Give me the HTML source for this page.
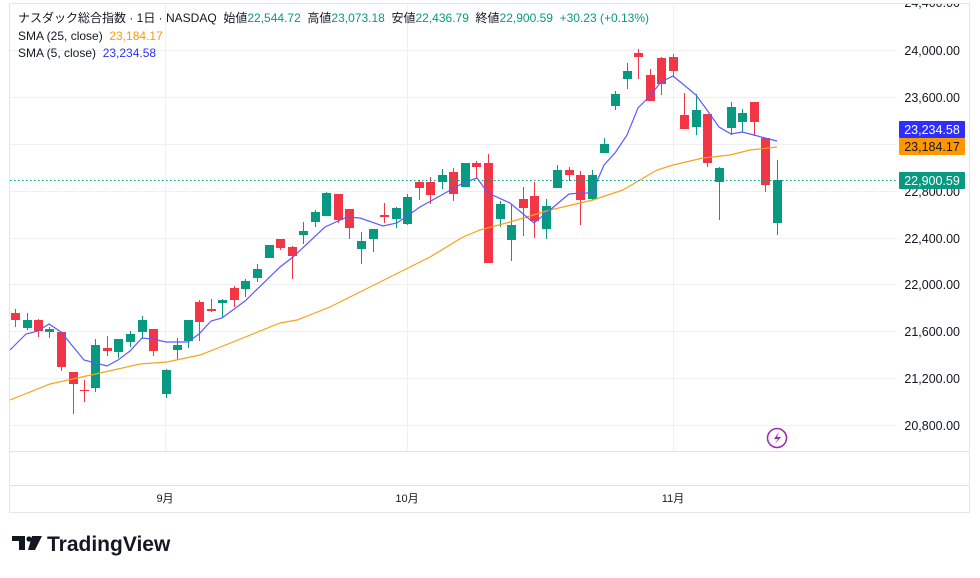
<!DOCTYPE html>
<html><head><meta charset="utf-8"><style>
body{margin:0;background:#fff;width:980px;height:573px;overflow:hidden;font-family:"Liberation Sans","Noto Sans CJK JP",sans-serif;}
svg text{font-family:"Liberation Sans","Noto Sans CJK JP",sans-serif;}
</style></head><body>
<svg id="s" width="980" height="573" xmlns="http://www.w3.org/2000/svg">
<rect x="9.5" y="3.5" width="960" height="509" fill="#fff" stroke="#e6e6ea"/>
<g stroke="#f0f0f3" stroke-width="1">
<line x1="10" x2="897" y1="50.5" y2="50.5"/><line x1="10" x2="897" y1="97.5" y2="97.5"/>
<line x1="10" x2="897" y1="144.5" y2="144.5"/><line x1="10" x2="897" y1="191.5" y2="191.5"/>
<line x1="10" x2="897" y1="238.5" y2="238.5"/><line x1="10" x2="897" y1="284.5" y2="284.5"/>
<line x1="10" x2="897" y1="331.5" y2="331.5"/><line x1="10" x2="897" y1="378.5" y2="378.5"/>
<line x1="10" x2="897" y1="425.5" y2="425.5"/>
<line x1="165.5" x2="165.5" y1="4" y2="451"/><line x1="407.5" x2="407.5" y1="4" y2="451"/><line x1="673.5" x2="673.5" y1="4" y2="451"/>
</g>
<line x1="10" x2="969" y1="451.5" y2="451.5" stroke="#e0e0ea"/>
<line x1="10" x2="969" y1="485.5" y2="485.5" stroke="#e0e0ea"/>
<g id="c"></g>
<polyline fill="none" stroke="#f7a21b" stroke-width="1.2" points="10,400 50,384 100,373 140,364 167,362 200,355 233,342 280,323 297,320 330,307 380,282 430,257 463,237 480,230 510,222 550,210 593,200 623,190 657,170 673,165 703,158 730,155 750,150 777,147"/>
<polyline fill="none" stroke="#5b5bff" stroke-width="1.2" points="10,350 26,334 38,331 49,324 61,332 84,360 107,366 118,360 130,351 142,338 153,339 166,342 177,342 188,342 199,334 211,321 222,318 245,301 280,267 293,257 325,227 347,217 360,218 383,226 397,223 420,207 447,192 463,183 477,178 488,193 510,203 534,223 550,210 569,194 580,193 592,193 604,165 615,153 627,135 638,108 650,96 661,82 673,76 684,85 696,95 707,110 719,127 731,134 742,132 754,135 765,138 777,141"/>
<line x1="10" x2="897" y1="180.5" y2="180.5" stroke="#089981" stroke-dasharray="1.5,2.5"/>
<rect x="897" y="0" width="72" height="3" fill="#fff"/>
<g font-size="12.5" fill="#131722" text-anchor="end">
<text x="960" y="7">24,400.00</text>
<text x="960" y="55">24,000.00</text><text x="960" y="102">23,600.00</text>
<text x="960" y="196">22,800.00</text><text x="960" y="243">22,400.00</text>
<text x="960" y="289">22,000.00</text><text x="960" y="336">21,600.00</text>
<text x="960" y="383">21,200.00</text><text x="960" y="430">20,800.00</text>
</g>
<rect x="0" y="0" width="980" height="3" fill="#fff"/>
<line x1="10" x2="969" y1="3.5" y2="3.5" stroke="#e6e6ea"/>
<rect x="899" y="121" width="66" height="17" fill="#2e2eff" rx="1"/>
<text x="932" y="134" font-size="12.5" fill="#fff" text-anchor="middle">23,234.58</text>
<rect x="899" y="138" width="66" height="17" fill="#ff9800" rx="1"/>
<text x="932" y="151" font-size="12.5" fill="#131722" text-anchor="middle">23,184.17</text>
<rect x="899" y="172" width="66" height="17" fill="#089981" rx="1"/>
<text x="932" y="185" font-size="12.5" fill="#fff" text-anchor="middle">22,900.59</text>
<g font-size="11" fill="#131722" text-anchor="middle">
<text x="165" y="502">9月</text><text x="407" y="502">10月</text><text x="673" y="502">11月</text></g>
<circle cx="777" cy="438" r="9.5" fill="#fff" stroke="#9c27b0" stroke-width="1.5"/>
<path d="M779 432 L774 439 L778 439 L775 444 L781 437 L777 437 Z" fill="#9c27b0"/>
<g font-size="12">
<text x="18" y="22" fill="#131722" xml:space="preserve">ナスダック総合指数 · 1日 · NASDAQ  始値<tspan fill="#089981">22,544.72</tspan>  高値<tspan fill="#089981">23,073.18</tspan>  安値<tspan fill="#089981">22,436.79</tspan>  終値<tspan fill="#089981">22,900.59</tspan>  <tspan fill="#089981">+30.23 (+0.13%)</tspan></text>
<text x="18" y="40" fill="#131722" xml:space="preserve">SMA (25, close)  <tspan fill="#ff9800">23,184.17</tspan></text>
<text x="18" y="57" fill="#131722" xml:space="preserve">SMA (5, close)  <tspan fill="#2e2eff">23,234.58</tspan></text>
</g>
<g fill="#131722">
<path d="M12 536 H25 V550 H19 V541 H12 Z"/><circle cx="29" cy="539" r="2.6"/><path d="M32 536 H42 L35 550 H28 Z"/>
</g>
<text x="47" y="551" font-size="21" font-weight="bold" fill="#131722">TradingView</text>
</svg>
<script>
var d=[[15,313,320,309,327,0],[26.5,328,320,313,330,1],[38,320,331,319,337,0],[49,332,329,327,338,1],[61,332,367,332,371,0],[73,372,384,372,414,0],[84,390,391,380,402,0],[95,388,345,339,392,1],[107,348,351,336,356,0],[118,352,339,339,358,1],[130,342,334,331,347,1],[142,332,320,316,339,1],[153,329,351,329,356,0],[166,394,370,369,398,1],[177,350,345,338,360,1],[188,341,320,320,348,1],[199,302,322,300,341,0],[211,309,311,299,312,0],[222,303,300,299,317,1],[234,288,300,286,307,0],[245,289,281,279,297,1],[257,278,269,264,282,1],[269,258,245,245,258,1],[280,239,248,239,250,0],[292,247,256,246,279,0],[303,235,231,222,244,1],[315,222,212,210,227,1],[326,216,193,192,216,1],[338,194,220,194,223,0],[349,209,228,209,239,0],[361,249,241,232,264,1],[373,239,229,229,252,1],[384,215,217,203,223,0],[396,219,208,207,228,1],[407,224,197,194,225,1],[419,182,188,180,200,0],[430,182,195,177,204,0],[442,182,175,169,189,1],[453,172,194,168,201,0],[465,187,163,163,187,1],[476,163,167,161,178,0],[488,163,263,154,263,0],[500,219,204,201,227,1],[511,240,225,204,261,1],[523,199,208,187,236,0],[534,196,221,182,238,0],[546,229,206,199,239,1],[557,188,170,165,188,1],[569,170,175,167,181,0],[580,175,200,171,225,0],[592,199,175,170,200,1],[604,153,144,138,153,1],[615,106,94,91,110,1],[627,79,71,63,89,1],[638,53,57,49,79,0],[650,75,101,69,101,0],[661,58,84,57,95,0],[673,57,71,54,77,0],[684,115,129,93,129,0],[696,127,110,94,135,1],[707,114,163,114,167,0],[719,182,168,167,220,1],[731,128,107,102,135,1],[742,122,113,109,132,1],[754,102,122,102,136,0],[765,138,185,138,192,0],[777,223,180,160,235,1]];
var g=document.getElementById('c'),h='';
d.forEach(function(c){var col=c[5]?'#089981':'#f23645';var x=Math.round(c[0]);var t=Math.min(c[1],c[2]),b=Math.max(c[1],c[2]);if(b-t<1)b=t+1;
h+='<line x1="'+(x+0.5)+'" x2="'+(x+0.5)+'" y1="'+c[3]+'" y2="'+c[4]+'" stroke="'+col+'"/>';
h+='<rect x="'+(x-4)+'" y="'+t+'" width="9" height="'+(b-t)+'" fill="'+col+'"/>';});
g.innerHTML=h;
</script>
</body></html>
